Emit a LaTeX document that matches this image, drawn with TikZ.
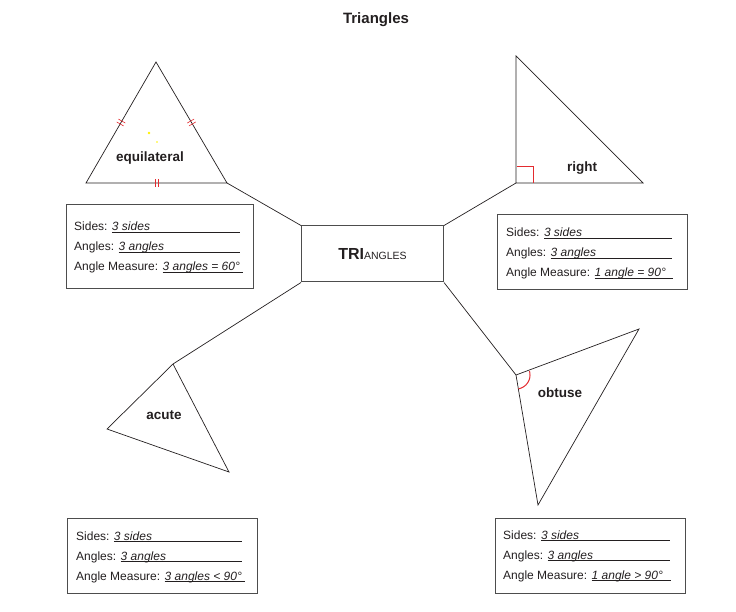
\documentclass[tikz,border=0pt]{standalone}
\usepackage{fontspec}
\setmainfont{Liberation Sans}
\usetikzlibrary{calc}

\definecolor{ink}{HTML}{231F20}
\definecolor{boxgray}{HTML}{4D4D4D}
\definecolor{markred}{HTML}{E32B2F}

% a label with its answer written on a blank
\newcommand{\fillin}[3]{\makebox[#1][l]{#2: \rlap{\itshape #3}\leaders\hrule height -1.2pt depth 1.8pt\hfill}}

\tikzset{
  tri/.style={draw=ink, line width=0.7pt, line join=miter},
  link/.style={draw=ink, line width=0.7pt},
  tickmark/.style={draw=markred, line width=0.6pt},
  infobox/.style={draw=boxgray, line width=1pt, anchor=north west, inner sep=0pt, minimum width=190pt, minimum height=75pt},
  infoline/.style={anchor=base west, inner sep=0pt, text=ink, font=\fontsize{12}{14}\selectfont},
  kind/.style={text=ink, font=\bfseries\fontsize{13.5}{15}\selectfont},
}

\begin{document}
\begin{tikzpicture}[x=1pt, y=-1pt]
\useasboundingbox (0,0) rectangle (736,612);
\node[text=ink, font=\bfseries\fontsize{15}{17}\selectfont] (title) at (376,20) {Triangles};
\node[draw=boxgray, line width=1pt, minimum width=142pt, minimum height=56pt, text=ink] (hub) at (372.5,254) {\fontsize{16}{18}\selectfont\bfseries TRI\fontsize{10.5}{12}\selectfont\mdseries ANGLES};
% equilateral
\coordinate (eqT) at (156,62);
\coordinate (eqL) at (86,183);
\coordinate (eqR) at (227,183);
\draw[tri] (eqT) -- (eqL) -- (eqR) -- cycle;
\foreach \a/\b in {eqL/eqT, eqT/eqR, eqR/eqL}
  \foreach \t in {0.488,0.512}
    \draw[tickmark] ($(\a)!\t!(\b)!4pt!90:(\b)$) -- ($(\a)!\t!(\b)!4pt!-90:(\b)$);
\fill[yellow] (149,133) circle (1.3pt);
\fill[yellow] (157,142) circle (0.8pt);
\node[kind] (eqname) at (150,158) {equilateral};
% right
\coordinate (rtT) at (516,56);
\coordinate (rtC) at (516,183);
\coordinate (rtR) at (643,183);
\draw[tri] (rtT) -- (rtC) -- (rtR) -- cycle;
\draw[tickmark, line width=1pt] (516.5,167) -- (533,167) -- (533,183);
\node[kind] (rtname) at (582,168) {right};
% acute
\coordinate (acT) at (173,364);
\coordinate (acL) at (107,429);
\coordinate (acR) at (229,472);
\draw[tri] (acT) -- (acL) -- (acR) -- cycle;
\node[kind] (acname) at (164,415) {acute};
% obtuse
\coordinate (obV) at (516,375);
\coordinate (obT) at (639,329);
\coordinate (obB) at (538,505);
\draw[tri] (obV) -- (obT) -- (obB) -- cycle;
\draw[tickmark, line width=1pt, domain=-16:80, samples=30] plot ({516+14*cos(\x)},{375+14*sin(\x)});
\node[kind] (obname) at (560,393) {obtuse};
% links to the hub
\draw[link] (eqR) -- (hub.north west);
\draw[link] (hub.north east) -- (rtC);
\draw[link] (hub.south west) -- (acT);
\draw[link] (hub.south east) -- (obV);
% answer boxes
\node[infobox, minimum width=187pt, minimum height=84pt] (eqinfo) at (66,204) {};
\node[infoline] (eqsides) at (74,231) {\fillin{166pt}{Sides}{3 sides}};
\node[infoline] (eqangles) at (74,251) {\fillin{166pt}{Angles}{3 angles}};
\node[infoline] (eqmeasure) at (74,271) {\fillin{169pt}{Angle Measure}{3 angles = 60°}};
\node[infobox] (rtinfo) at (497,214) {};
\node[infoline] (rtsides) at (506,237) {\fillin{166pt}{Sides}{3 sides}};
\node[infoline] (rtangles) at (506,257) {\fillin{166pt}{Angles}{3 angles}};
\node[infoline] (rtmeasure) at (506,277) {\fillin{167pt}{Angle Measure}{1 angle = 90°}};
\node[infobox] (acinfo) at (67,518) {};
\node[infoline] (acsides) at (76,540) {\fillin{166pt}{Sides}{3 sides}};
\node[infoline] (acangles) at (76,560) {\fillin{166pt}{Angles}{3 angles}};
\node[infoline] (acmeasure) at (76,580) {\fillin{169pt}{Angle Measure}{3 angles < 90°}};
\node[infobox] (obinfo) at (495,518) {};
\node[infoline] (obsides) at (503,539) {\fillin{167pt}{Sides}{3 sides}};
\node[infoline] (obangles) at (503,559) {\fillin{167pt}{Angles}{3 angles}};
\node[infoline] (obmeasure) at (503,579) {\fillin{168pt}{Angle Measure}{1 angle > 90°}};
\end{tikzpicture}
\end{document}
